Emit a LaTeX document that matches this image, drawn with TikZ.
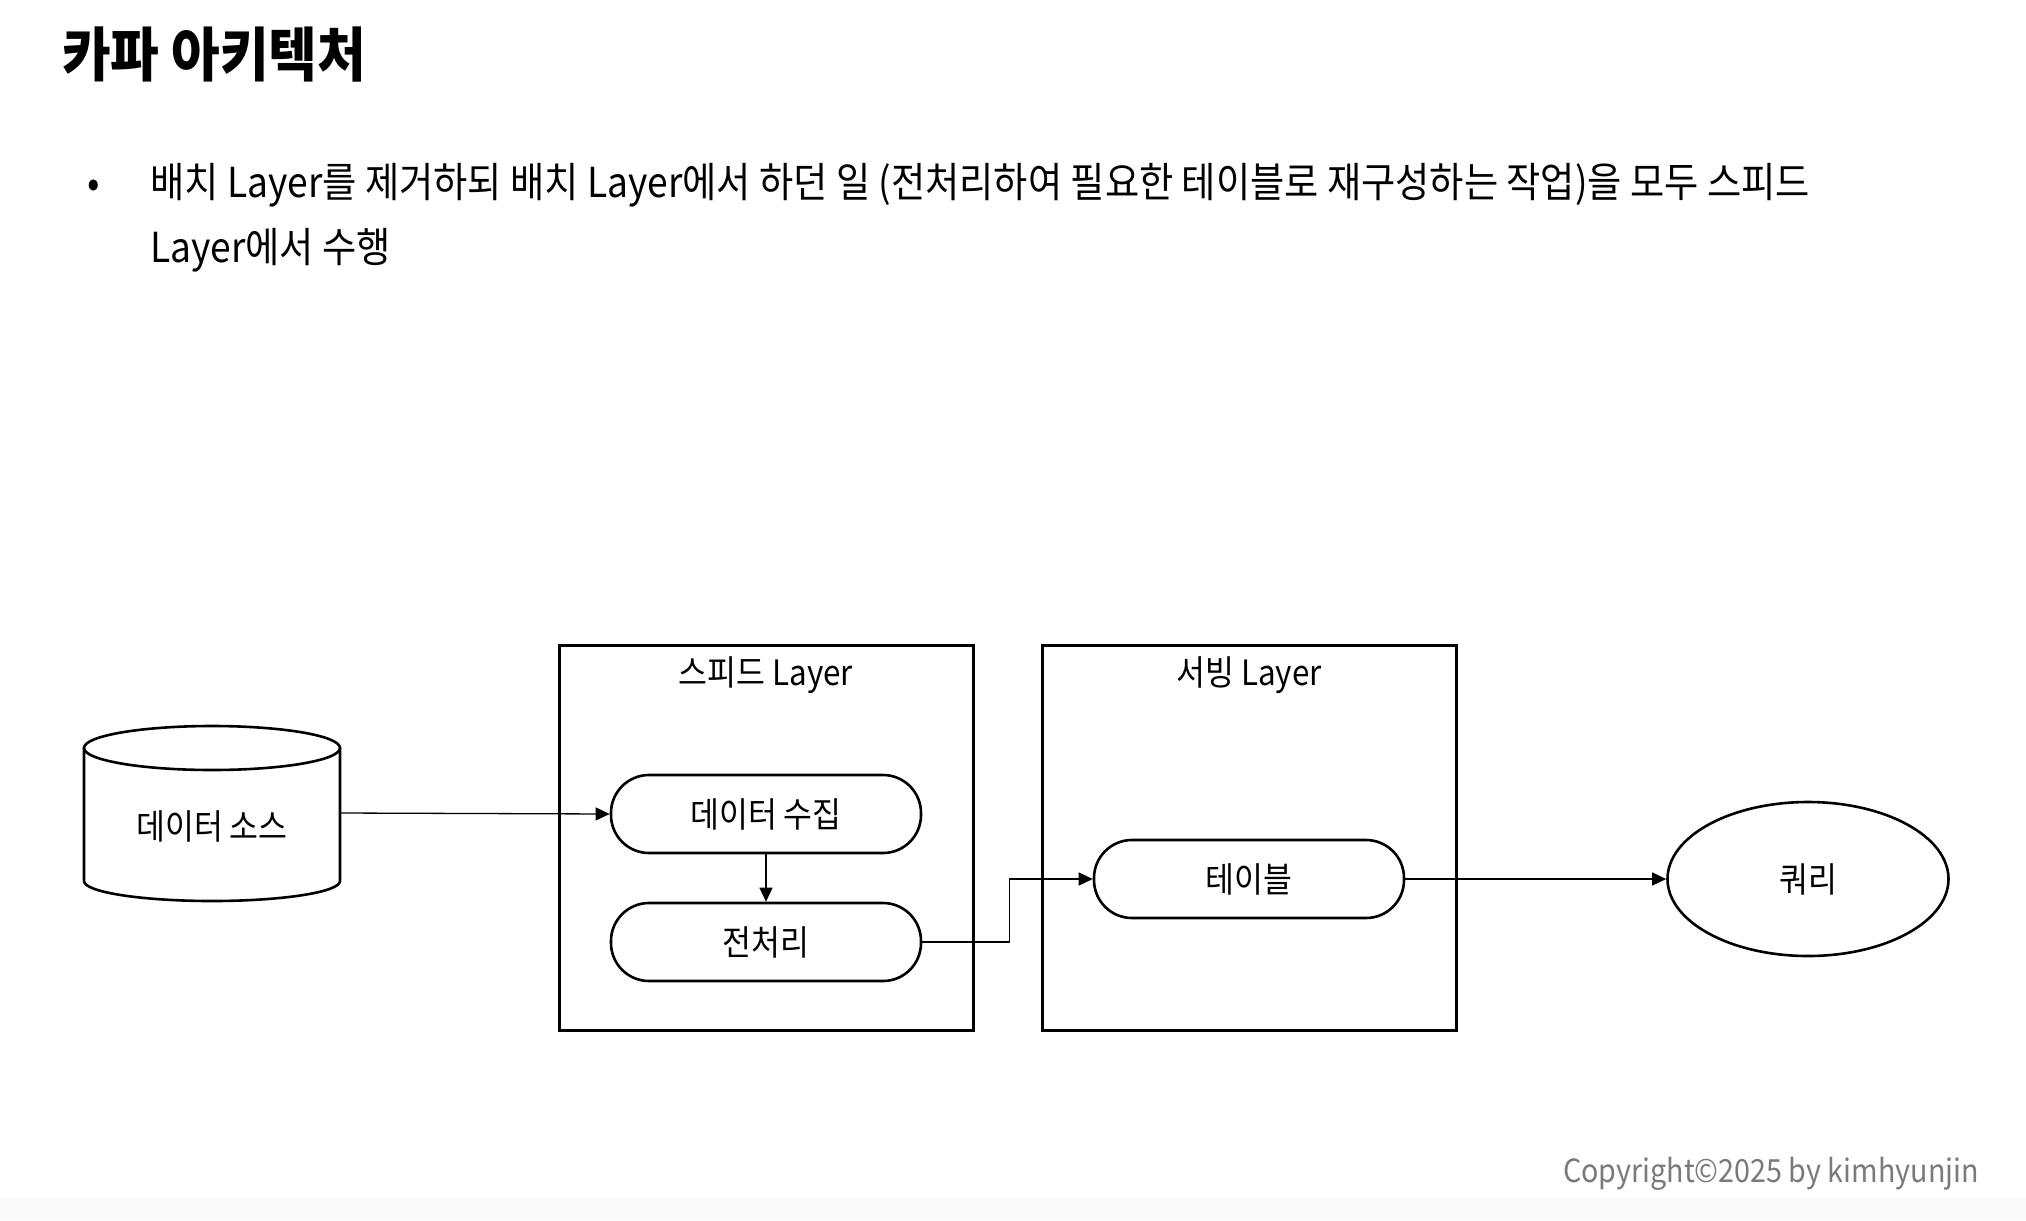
\documentclass[tikz,border=0pt]{standalone}
\usepackage{fontspec}
\setmainfont[FakeStretch=0.9]{Noto Sans CJK KR}
\usetikzlibrary{arrows.meta,shapes.geometric}
\definecolor{copygray}{HTML}{7A7A7A}
\begin{document}
\begin{tikzpicture}[x=1bp,y=-1bp,
  layerbox/.style={draw, line width=3bp, minimum width=414bp, minimum height=385bp},
  stadium/.style={draw, line width=2.6bp, rounded corners=38bp, minimum width=310bp, minimum height=78bp, font=\fontsize{35}{40}\selectfont},
  lbl/.style={font=\fontsize{35}{40}\selectfont},
  arr/.style={line width=1.3bp, -{Triangle[length=14bp,width=13bp]}}]
\useasboundingbox (0,0) rectangle (2026,1220);
\fill[white] (0,0) rectangle (2026,1220);
\fill[black!2] (0,1197) rectangle (2026,1220);
% title and bullet text
\node[anchor=base west, inner sep=0, font=\fontsize{59}{66}\selectfont\bfseries] (title) at (62,76) {카파 아키텍처};
\node[anchor=base, inner sep=0, font=\fontsize{41}{48}\selectfont] (dot) at (94,197) {•};
\node[anchor=base west, inner sep=0, font=\fontsize{41.5}{48}\selectfont] (line1) at (150,197) {배치 Layer를 제거하되 배치 Layer에서 하던 일 (전처리하여 필요한 테이블로 재구성하는 작업)을 모두 스피드};
\node[anchor=base west, inner sep=0, font=\fontsize{41.5}{48}\selectfont] (line2) at (150,262) {Layer에서 수행};
% layers
\node[layerbox] (spd) at (766,837.5) {};
\node[lbl] (spdlbl) at (766,675) {스피드 Layer};
\node[layerbox] (srv) at (1249,837.5) {};
\node[lbl] (srvlbl) at (1249,675) {서빙 Layer};
% data source cylinder
\node[lbl, minimum width=256bp, minimum height=175bp] (src) at (212,813) {\raisebox{-13bp}[\height][\depth]{데이터 소스}};
\draw[line width=2.6bp, fill=white] (212,748) ellipse [x radius=128, y radius=22];
\draw[line width=2.6bp] (84,748) -- (84,881) arc[start angle=180, end angle=360, x radius=128, y radius=-20] -- (340,748);
% nodes
\node[stadium] (col) at (766,814) {데이터 수집};
\node[stadium] (pre) at (766,942) {전처리};
\node[stadium] (tbl) at (1249,879) {테이블};
\node[ellipse, draw, line width=2.6bp, minimum width=281bp, minimum height=154bp, lbl] (qry) at (1808,879) {쿼리};
% connectors
\draw[arr] (src.east) -- (col.west);
\draw[arr] (col.south) -- (pre.north);
\draw[arr] (pre.east) -- ++(87,0) |- (tbl.west);
\draw[arr] (tbl.east) -- (qry.west);
% copyright
\node[anchor=base east, inner sep=0, text=copygray, font=\fontsize{32}{38}\selectfont] (copy) at (1979,1182) {Copyright©2025 by kimhyunjin};
\end{tikzpicture}
\end{document}
